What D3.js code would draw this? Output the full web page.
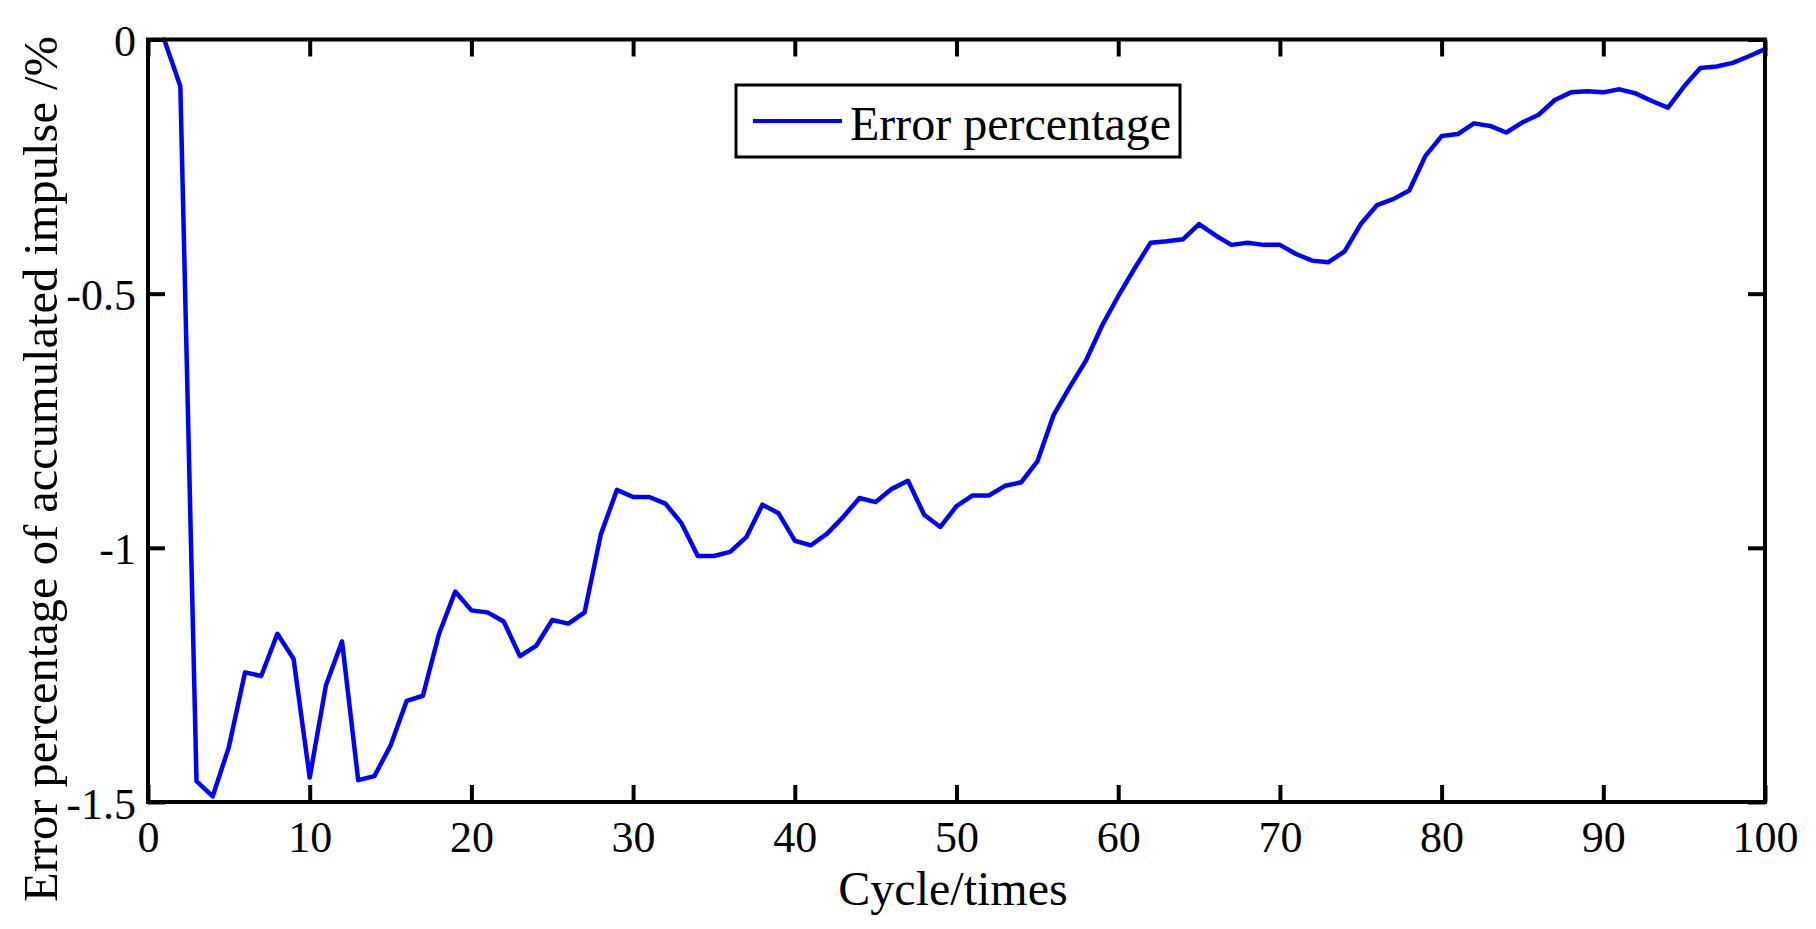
<!DOCTYPE html>
<html>
<head>
<meta charset="utf-8">
<script src="https://cdn.jsdelivr.net/npm/d3@7"></script>
<style>
  html, body { margin: 0; padding: 0; background: #fff; }
  svg { display: block; }
  text { font-family: "Liberation Serif", "Times New Roman", serif; fill: #000; }
</style>
</head>
<body>
<svg id="chart" width="1816" height="929"></svg>
<script>
// ---- data ----
const cycles = d3.range(1, 101);
const errorPct = [
  0.000, -0.092, -1.459, -1.489, -1.392, -1.245, -1.252, -1.169, -1.218, -1.452,
  -1.271, -1.184, -1.457, -1.449, -1.389, -1.301, -1.291, -1.169, -1.086, -1.123,
  -1.127, -1.145, -1.213, -1.193, -1.142, -1.149, -1.127, -0.974, -0.886, -0.900,
  -0.900, -0.913, -0.952, -1.016, -1.016, -1.008, -0.979, -0.915, -0.932, -0.986,
  -0.995, -0.972, -0.939, -0.902, -0.910, -0.884, -0.868, -0.935, -0.959, -0.918,
  -0.897, -0.897, -0.878, -0.871, -0.830, -0.739, -0.684, -0.632, -0.563, -0.505,
  -0.451, -0.400, -0.397, -0.393, -0.363, -0.385, -0.404, -0.400, -0.404, -0.404,
  -0.422, -0.435, -0.438, -0.417, -0.363, -0.326, -0.314, -0.297, -0.229, -0.190,
  -0.186, -0.165, -0.170, -0.183, -0.163, -0.148, -0.119, -0.104, -0.102, -0.104,
  -0.098, -0.106, -0.121, -0.134, -0.092, -0.056, -0.053, -0.046, -0.033, -0.019
];
const xTicks = [0, 10, 20, 30, 40, 50, 60, 70, 80, 90, 100];
const xTickLabels = ["0", "10", "20", "30", "40", "50", "60", "70", "80", "90", "100"];
const yTicks = [0, -0.5, -1, -1.5];
const yTickLabels = ["0", "-0.5", "-1", "-1.5"];
const seriesName = "Error percentage";
const xLabel = "Cycle/times";
const yLabel = "Error percentage of accumulated impulse /%";

// ---- layout ----
const L = 148, R = 1765, T = 39.5, B = 802;
const tickLen = 17;
const svg = d3.select("#chart");

const x = d3.scaleLinear().domain([0, 100]).range([L, R]);
const y = d3.scaleLinear().domain([-1.5, 0]).range([B, T]);

// data line
const line = d3.line().x((d, i) => x(cycles[i])).y(d => y(d));
svg.append("path")
  .datum(errorPct)
  .attr("d", line)
  .attr("fill", "none")
  .attr("stroke", "#0000ff")
  .attr("stroke-width", 4.5)
  .attr("stroke-linejoin", "round")
  .attr("stroke-linecap", "round");

// axes (inward ticks on all sides)
function styleAxis(g) {
  g.select(".domain").remove();
  g.selectAll(".tick line").attr("stroke", "#000").attr("stroke-width", 4);
}
const gBottom = svg.append("g").attr("transform", `translate(0,${B})`)
  .call(d3.axisBottom(x).tickValues(xTicks).tickSize(-tickLen).tickFormat((d, i) => xTickLabels[i]));
styleAxis(gBottom);
gBottom.selectAll(".tick text")
  .attr("y", 50).attr("dy", null)
  .style("font-family", "'Liberation Serif', serif").style("font-size", "44px").attr("fill", "#000");

const gTop = svg.append("g").attr("transform", `translate(0,${T})`)
  .call(d3.axisTop(x).tickValues(xTicks).tickSize(-tickLen).tickFormat(""));
styleAxis(gTop);

const gLeft = svg.append("g").attr("transform", `translate(${L},0)`)
  .call(d3.axisLeft(y).tickValues(yTicks).tickSize(-tickLen).tickFormat((d, i) => yTickLabels[i]));
styleAxis(gLeft);
gLeft.selectAll(".tick text")
  .attr("x", -12).attr("dy", null).attr("y", 16)
  .style("font-family", "'Liberation Serif', serif").style("font-size", "44px").attr("fill", "#000");

const gRight = svg.append("g").attr("transform", `translate(${R},0)`)
  .call(d3.axisRight(y).tickValues(yTicks).tickSize(-tickLen).tickFormat(""));
styleAxis(gRight);

// box
svg.append("rect")
  .attr("x", L).attr("y", T).attr("width", R - L).attr("height", B - T)
  .attr("fill", "none").attr("stroke", "#000").attr("stroke-width", 4);

// axis labels
svg.append("text")
  .attr("x", 953).attr("y", 905)
  .attr("text-anchor", "middle")
  .style("font-size", "48px")
  .text(xLabel);

svg.append("text")
  .attr("transform", "translate(57,469) rotate(-90)")
  .attr("text-anchor", "middle")
  .style("font-size", "48.5px")
  .text(yLabel);

// legend
const lg = svg.append("g");
lg.append("rect")
  .attr("x", 736).attr("y", 85).attr("width", 444).attr("height", 72)
  .attr("fill", "#fff").attr("stroke", "#000").attr("stroke-width", 3);
lg.append("line")
  .attr("x1", 753).attr("x2", 842).attr("y1", 121).attr("y2", 121)
  .attr("stroke", "#0000ff").attr("stroke-width", 4);
lg.append("text")
  .attr("x", 850).attr("y", 140)
  .style("font-size", "48px")
  .text(seriesName);
</script>
</body>
</html>
